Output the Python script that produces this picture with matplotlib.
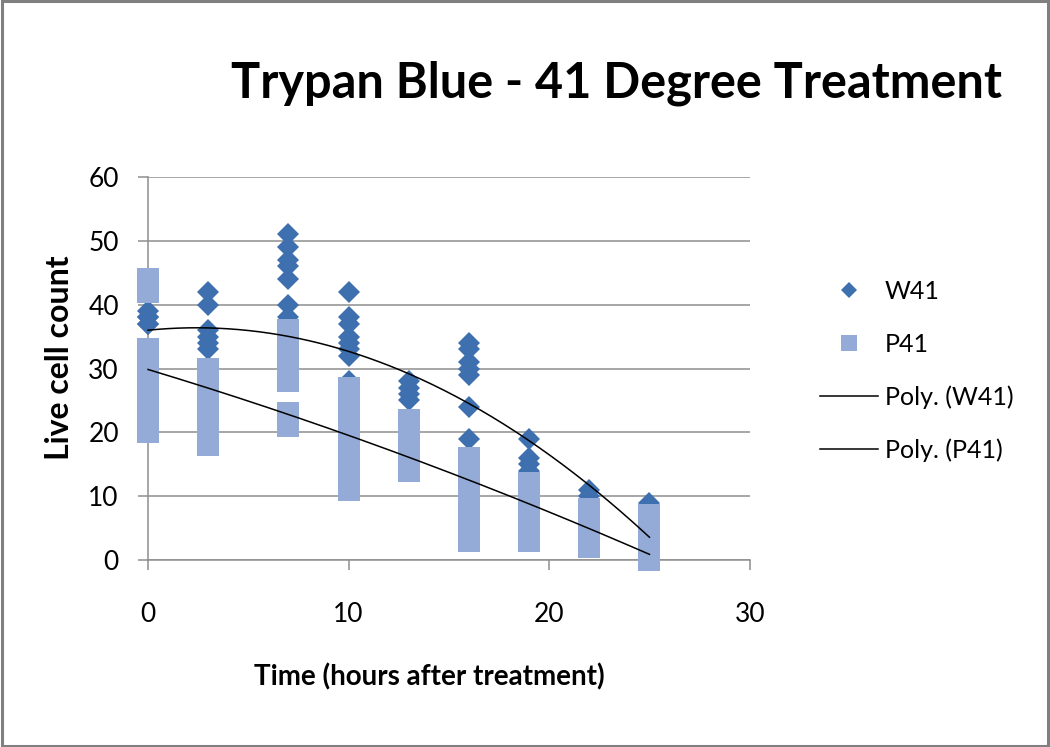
import numpy as np
import matplotlib
matplotlib.use("Agg")
import matplotlib.pyplot as plt
from matplotlib.patches import Rectangle
from matplotlib.lines import Line2D

FONTS = ['Lato', 'Liberation Sans', 'DejaVu Sans']
plt.rcParams['font.family'] = FONTS

# ---- data (some W41 points sit hidden beneath the P41 squares) ----
times = [0, 3, 7, 10, 13, 16, 19, 22, 25]
w41_counts = [
    [39, 38, 37, 38, 37, 33, 30, 27],
    [42, 40, 36, 35, 34, 33],
    [51, 49, 47, 46, 44, 40, 38, 34, 32, 30, 29, 28, 22, 21],
    [42, 38, 37, 35, 34, 33, 32, 28, 25, 22],
    [28, 27, 26, 25],
    [34, 33, 31, 30, 29, 24, 19, 14, 10],
    [19, 16, 15, 14],
    [11, 10],
    [9, 8, 5, 3, 1],
]
p41_counts = [
    [44, 42, 33, 31, 29, 27, 25, 23, 21, 20],
    [30, 28, 26, 24, 22, 20, 18],
    [36, 34, 32, 30, 28, 23, 21],
    [27, 25, 23, 21, 19, 17, 15, 13, 11],
    [22, 20, 18, 16, 14],
    [16, 14, 12, 10, 8, 6, 4, 3],
    [12, 10, 8, 6, 4, 3],
    [8, 6, 4, 2],
    [7, 5, 3, 1, 0],
]
x_ticks = [0, 10, 20, 30]
y_ticks = [0, 10, 20, 30, 40, 50, 60]
series_labels = ['W41', 'P41', 'Poly. (W41)', 'Poly. (P41)']
title = 'Trypan Blue - 41 Degree Treatment'
x_label = 'Time (hours after treatment)'
y_label = 'Live cell count'

W_COLOR = '#3E6FAF'
P_COLOR = '#93ABD6'
GRID = '#8E8E8E'

def flatten(ts, groups):
    xs, ys = [], []
    for t, g in zip(ts, groups):
        xs.extend([t] * len(g))
        ys.extend(g)
    return np.array(xs, float), np.array(ys, float)

wx, wy = flatten(times, w41_counts)
px, py = flatten(times, p41_counts)

fig = plt.figure(figsize=(10.5, 7.47), dpi=100)
ax = fig.add_axes([0.141, 0.2503, 0.573, 0.5127])

ax.plot(wx, wy, linestyle='none', marker='D', markersize=11.2,
        color=W_COLOR, markeredgewidth=0, clip_on=False, zorder=3)
ax.plot(px, py, linestyle='none', marker='s', markersize=16,
        color=P_COLOR, markeredgewidth=0, clip_on=False, zorder=4)

# polynomial (order 2) trendlines
for xs, ys in ((wx, wy), (px, py)):
    c = np.polyfit(xs, ys, 2)
    xx = np.linspace(xs.min(), xs.max(), 300)
    ax.plot(xx, np.polyval(c, xx), color='black', linewidth=1.1, zorder=5,
            clip_on=False)

ax.set_xlim(0, 30)
ax.set_ylim(0, 60)
ax.set_xticks(x_ticks)
ax.set_yticks(y_ticks)
ax.yaxis.grid(True, color=GRID, linewidth=1.1, zorder=0)
ax.set_axisbelow(True)
for s in ('top', 'right'):
    ax.spines[s].set_visible(False)
for s in ('left', 'bottom'):
    ax.spines[s].set_color(GRID)
    ax.spines[s].set_linewidth(1.1)
ax.tick_params(axis='y', direction='out', length=7, width=1.1, color=GRID,
               pad=14, labelsize=19)
ax.tick_params(axis='x', direction='out', length=7, width=1.1, color=GRID,
               pad=23, labelsize=19)

fig.text(0.057, 0.521, y_label, rotation=90, ha='center', va='center',
         fontsize=23, fontweight='bold')
fig.text(0.409, 0.094, x_label, ha='center', va='center',
         fontsize=20, fontweight='bold')
fig.text(0.587, 0.870, title, ha='center', va='baseline',
         fontsize=35, fontweight='bold')

handles = [
    Line2D([], [], linestyle='none', marker='D', markersize=8.5,
           color=W_COLOR, markeredgewidth=0),
    Line2D([], [], linestyle='none', marker='s', markersize=12,
           color=P_COLOR, markeredgewidth=0),
    Line2D([], [], color='black', linewidth=1.1),
    Line2D([], [], color='black', linewidth=1.1),
]
fig.legend(handles, series_labels, loc='upper left',
           bbox_to_anchor=(0.781, 0.625), frameon=False, fontsize=18,
           handlelength=2.3, handletextpad=0.3, labelspacing=1.18,
           borderpad=0, borderaxespad=0)

fig.add_artist(Rectangle((0.002, 0.002), 0.996, 0.996, transform=fig.transFigure,
                         fill=False, edgecolor='#808080', linewidth=2.2))

fig.savefig('out.png', dpi=100)
